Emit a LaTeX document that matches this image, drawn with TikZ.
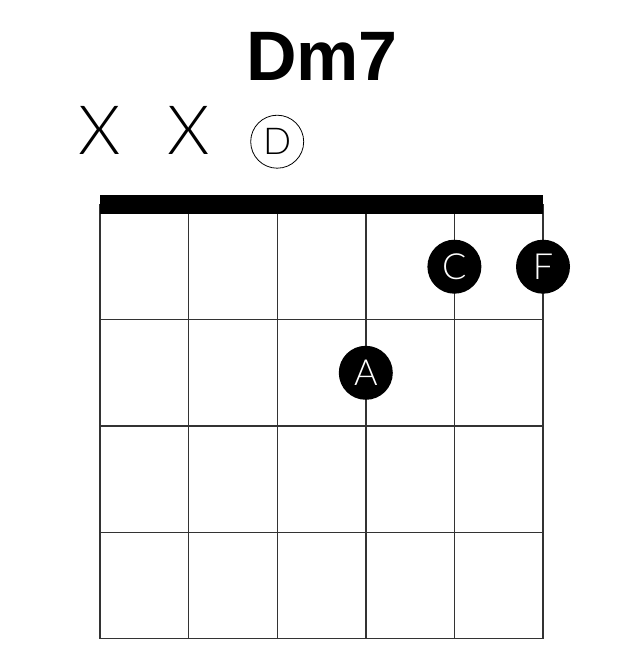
\documentclass[tikz,border=0pt]{standalone}
\usepackage{fontspec}
\setmainfont{Liberation Sans}
\newfontfamily\thinfont{Lato Light}
\begin{document}
\begin{tikzpicture}[x=1pt,y=-1pt,
  gridline/.style={draw=black!80,line width=1.4pt},
  fingerdot/.style={circle,fill=black,minimum size=54pt,inner sep=0pt,text=white,font=\thinfont\fontsize{36}{36}\selectfont},
  mutedmark/.style={inner sep=0pt,font=\thinfont\fontsize{68}{68}\selectfont},
  opennote/.style={circle,draw=black,line width=0.8pt,minimum size=53pt,inner sep=0pt,font=\thinfont\fontsize{37}{37}\selectfont}]
\useasboundingbox (0,0) rectangle (644,656);
% title
\node[font=\bfseries\fontsize{70}{70}\selectfont,anchor=base] (title) at (322,80) {Dm7};
% grid: strings
\foreach \i/\x in {1/100,2/188.6,3/277.2,4/365.8,5/454.4,6/543} {
  \coordinate (s\i top) at (\x,204);
  \coordinate (s\i bot) at (\x,638.7);
  \draw[gridline] (s\i top) -- (s\i bot);
}
% frets
\foreach \j/\y in {1/319.5,2/425.8,3/532.2,4/638.5} {
  \coordinate (f\j l) at (100,\y);
  \coordinate (f\j r) at (543,\y);
  \draw[gridline] (f\j l) -- (f\j r);
}
% nut
\node[fill=black,minimum width=443pt,minimum height=18.5pt,inner sep=0pt,anchor=north west] (nut) at (99.3,195) {};
% mutes and open
\node[mutedmark] (m1) at (100,130) {X};
\node[mutedmark] (m2) at (188.6,130) {X};
\node[opennote] (o3) at (277.2,141.7) {D};
% finger dots
\node[fingerdot] (dC) at (454.4,266.7) {C};
\node[fingerdot] (dF) at (543,266.7) {F};
\node[fingerdot] (dA) at (365.8,372.8) {A};
\end{tikzpicture}
\end{document}
